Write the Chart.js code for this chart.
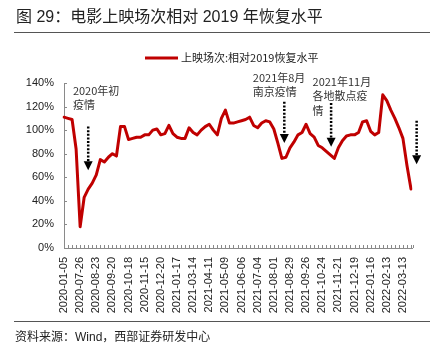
<!DOCTYPE html>
<html><head><meta charset="utf-8">
<script src="https://cdn.jsdelivr.net/npm/chart.js@4"></script>
<style>
html,body{margin:0;padding:0;background:#fff;}
#wrap{position:relative;width:443px;height:356px;overflow:hidden;background:#fff;}
#c{position:absolute;left:0;top:0;}
.title{position:absolute;left:16px;top:6px;font-size:16px;line-height:22px;font-family:"Liberation Sans","Noto Sans CJK SC",sans-serif;color:#222;white-space:nowrap;}
.rule{position:absolute;left:14px;width:416px;height:1px;background:#555;}
.src{position:absolute;left:15px;top:329px;font-size:12px;line-height:16px;font-family:"Liberation Sans","Noto Sans CJK SC",sans-serif;color:#222;white-space:nowrap;}
</style></head>
<body>
<div id="wrap">
<canvas id="c" width="443" height="356"></canvas>
<div class="title">图 29：电影上映场次相对 2019 年恢复水平</div>
<div class="rule" style="top:32px"></div>
<div class="rule" style="top:321px"></div>
<div class="src">资料来源：Wind，西部证券研发中心</div>
</div>
<script>
const categories = [
 '2020-01-05','2020-01-12','2020-01-19','2020-01-26',
 '2020-07-26','2020-08-02','2020-08-09','2020-08-16',
 '2020-08-23','2020-08-30','2020-09-06','2020-09-13',
 '2020-09-20','2020-09-27','2020-10-04','2020-10-11',
 '2020-10-18','2020-10-25','2020-11-01','2020-11-08',
 '2020-11-15','2020-11-22','2020-11-29','2020-12-06',
 '2020-12-20','2020-12-27','2021-01-03','2021-01-10',
 '2021-01-17','2021-01-24','2021-01-31','2021-02-07',
 '2021-03-14','2021-03-21','2021-03-28','2021-04-04',
 '2021-04-11','2021-04-18','2021-04-25','2021-05-02',
 '2021-05-09','2021-05-16','2021-05-23','2021-05-30',
 '2021-06-06','2021-06-13','2021-06-20','2021-06-27',
 '2021-07-04','2021-07-11','2021-07-18','2021-07-25',
 '2021-08-01','2021-08-08','2021-08-15','2021-08-22',
 '2021-08-29','2021-09-05','2021-09-12','2021-09-19',
 '2021-09-26','2021-10-03','2021-10-10','2021-10-17',
 '2021-10-24','2021-10-31','2021-11-07','2021-11-14',
 '2021-11-21','2021-11-28','2021-12-05','2021-12-12',
 '2021-12-19','2021-12-26','2022-01-02','2022-01-09',
 '2022-01-16','2022-01-23','2022-01-30','2022-02-06',
 '2022-02-13','2022-02-20','2022-02-27','2022-03-06',
 '2022-03-13','2022-03-20','2022-03-27'
];
const recovery = [
 111,110,109,84,
 18,43,50,55,
 62,75,73,77,
 80,78,103,103,
 92,93,94,94,
 96,96,100,101,
 96,97,104,97,
 94,93,93,102,
 98,96,100,103,
 105,100,96,110,
 117,106,106,107,
 108,109,111,104,
 102,106,108,107,
 101,89,76,77,
 85,90,96,98,
 105,97,94,87,
 85,82,79,76,
 85,91,95,96,
 96,98,107,108,
 99,96,98,130,
 125,117,110,102,
 93,70,50
];
const seriesName = '上映场次:相对2019恢复水平';
const yTicks = [0,20,40,60,80,100,120,140];

const notes = [
 {i:2.2, v:133.5, lines:['2020年初','疫情']},
 {i:46.8, v:144.8, lines:['2021年8月','南京疫情']},
 {i:61.6, v:141.1, lines:['2021年11月','各地散点疫','情']}
];
const arrows = [
 {i:6.0, top:103, tip:66},
 {i:54.6, top:124, tip:89},
 {i:66.2, top:123, tip:86},
 {i:87.4, top:108, tip:71}
];

const deco = {
 id:'deco',
 beforeDatasetsDraw(chart){
  const ctx = chart.ctx, a = chart.chartArea, xs = chart.scales.x, ys = chart.scales.y;
  ctx.save();
  ctx.strokeStyle = '#8a8a8a'; ctx.lineWidth = 1;
  ctx.beginPath();
  ctx.moveTo(a.left+0.5, a.top); ctx.lineTo(a.left+0.5, a.bottom+0.5);
  ctx.lineTo(a.right+2, a.bottom+0.5);
  yTicks.forEach(t=>{ const y=Math.round(ys.getPixelForValue(t))+0.5; ctx.moveTo(a.left, y); ctx.lineTo(a.left+3, y); });
  for(let i=0;i<=categories.length;i++){ const x=Math.round(xs.getPixelForValue(Math.min(i,categories.length-1))+ (i===categories.length?2:0))+0.5; ctx.moveTo(x,a.bottom); ctx.lineTo(x,a.bottom-3); }
  ctx.stroke();
  ctx.restore();
 },
 afterDraw(chart){
  const ctx = chart.ctx, xs = chart.scales.x, ys = chart.scales.y;
  ctx.save();
  // legend
  const ds = chart.data.datasets[0];
  ctx.strokeStyle = ds.borderColor; ctx.lineWidth = 3;
  ctx.beginPath(); ctx.moveTo(145,58); ctx.lineTo(178,58); ctx.stroke();
  ctx.fillStyle = '#222'; ctx.font = '11px "Noto Sans CJK SC", sans-serif';
  ctx.textBaseline = 'middle'; ctx.textAlign = 'left';
  ctx.fillText(ds.label, 181, 58);
  // notes
  ctx.fillStyle = '#333';
  notes.forEach(n=>{
   const x = xs.getPixelForValue(n.i), y = ys.getPixelForValue(n.v);
   n.lines.forEach((t,k)=>ctx.fillText(t, x, y + k*14.5));
  });
  // arrows
  arrows.forEach(r=>{
   const x = xs.getPixelForValue(r.i), y0 = ys.getPixelForValue(r.top), y1 = ys.getPixelForValue(r.tip);
   ctx.strokeStyle = '#000'; ctx.lineWidth = 2.5; ctx.setLineDash([2,1.6]);
   ctx.beginPath(); ctx.moveTo(x,y0); ctx.lineTo(x,y1-9); ctx.stroke();
   ctx.setLineDash([]);
   ctx.fillStyle = '#000';
   ctx.beginPath(); ctx.moveTo(x-4.5,y1-9); ctx.lineTo(x+4.5,y1-9); ctx.lineTo(x,y1); ctx.closePath(); ctx.fill();
  });
  ctx.restore();
 }
};

new Chart(document.getElementById('c'), {
 type:'line',
 data:{ labels:categories, datasets:[{ label:seriesName, data:recovery, borderColor:'#C00000', backgroundColor:'#C00000', borderWidth:3, pointRadius:0, tension:0, fill:false, borderJoinStyle:'round', borderCapStyle:'round' }]},
 options:{
  responsive:false, animation:false,
  layout:{ padding:{ left:0, right:32, top:83, bottom:0 } },
  plugins:{ legend:{display:false}, tooltip:{enabled:false}, title:{display:false} },
  scales:{
   x:{ type:'category', offset:false,
     grid:{display:false, drawTicks:false}, border:{display:false},
     ticks:{ autoSkip:false, maxRotation:90, minRotation:90, padding:9, color:'#222',
       font:{family:'"Liberation Sans", Arial, sans-serif', size:11},
       callback:(v,i)=> i%4===0 ? categories[i] : '' },
     afterFit:s=>{ s.height = 108; } },
   y:{ min:0, max:140,
     grid:{display:false, drawTicks:false}, border:{display:false},
     ticks:{ stepSize:20, padding:10, color:'#222',
       font:{family:'"Liberation Sans", Arial, sans-serif', size:11},
       callback:v=> v+'%' },
     afterFit:s=>{ s.width = 64; } }
  }
 },
 plugins:[deco]
});
</script>
</body></html>
